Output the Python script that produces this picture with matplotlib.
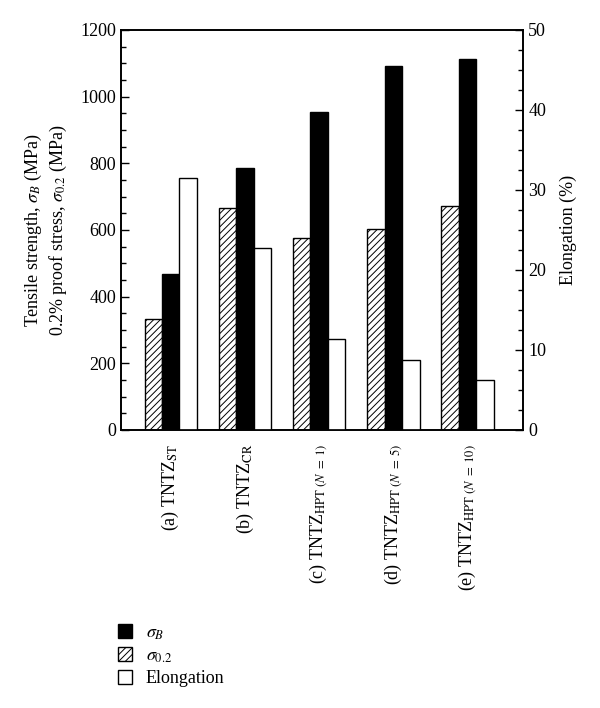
import matplotlib
matplotlib.use("Agg")
import matplotlib.pyplot as plt
from matplotlib.patches import Patch
from matplotlib.ticker import MultipleLocator
import numpy as np

plt.rcParams['font.family'] = ['Liberation Serif', 'DejaVu Serif']
plt.rcParams['mathtext.fontset'] = 'stix'
plt.rcParams['hatch.linewidth'] = 0.7

# data
samples = [r"(a) TNTZ$_{\mathrm{ST}}$",
           r"(b) TNTZ$_{\mathrm{CR}}$",
           r"(c) TNTZ$_{\mathrm{HPT}\ (N\ =\ 1)}$",
           r"(d) TNTZ$_{\mathrm{HPT}\ (N\ =\ 5)}$",
           r"(e) TNTZ$_{\mathrm{HPT}\ (N\ =\ 10)}$"]
sigma_02 = [333, 667, 577, 602, 672]
sigma_B = [469, 787, 954, 1091, 1112]
elongation = [31.5, 22.8, 11.4, 8.7, 6.3]

x = np.arange(len(samples))
w = 0.235

fig = plt.figure(figsize=(6.0, 7.08), dpi=100)
ax = fig.add_axes([0.2017, 0.3927, 0.6705, 0.565])
ax2 = ax.twinx()

ax.bar(x - w, sigma_02, w, color='white', edgecolor='black', hatch='/////', linewidth=1.0)
ax.bar(x, sigma_B, w, color='black', edgecolor='black', linewidth=1.0)
ax2.bar(x + w, elongation, w, color='white', edgecolor='black', linewidth=1.0)

ax.set_xlim(-0.67, 4.75)
ax.set_ylim(0, 1200)
ax2.set_ylim(0, 50)

ax.yaxis.set_major_locator(MultipleLocator(200))
ax.yaxis.set_minor_locator(MultipleLocator(50))
ax2.yaxis.set_major_locator(MultipleLocator(10))
ax2.yaxis.set_minor_locator(MultipleLocator(2.5))

for a in (ax, ax2):
    a.tick_params(axis='y', which='major', direction='in', length=6, width=1, labelsize=13)
    a.tick_params(axis='y', which='minor', direction='in', length=3.5, width=1)
    for s in a.spines.values():
        s.set_linewidth(1.2)

ax.set_xticks(x)
ax.set_xticklabels(samples, rotation=90, va='top', ha='center', fontsize=13)
ax.tick_params(axis='x', length=0, pad=10)

ax.set_ylabel("Tensile strength, $\\sigma_B$ (MPa)\n0.2% proof stress, $\\sigma_{0.2}$ (MPa)",
              fontsize=13, labelpad=8, linespacing=1.3)
ax2.set_ylabel("Elongation (%)", fontsize=13, labelpad=10)

handles = [Patch(facecolor='black', edgecolor='black'),
           Patch(facecolor='white', edgecolor='black', hatch='/////'),
           Patch(facecolor='white', edgecolor='black')]
fig.legend(handles, [r"$\sigma_B$", r"$\sigma_{0.2}$", "Elongation"],
           loc='upper left', bbox_to_anchor=(118 / 600, 1 - 624 / 708),
           bbox_transform=fig.transFigure, frameon=False,
           handlelength=0.8, handleheight=0.8, handletextpad=0.75,
           labelspacing=0.3, borderpad=0, borderaxespad=0, fontsize=13)

fig.savefig("out.png", dpi=100)
plt.close(fig)
